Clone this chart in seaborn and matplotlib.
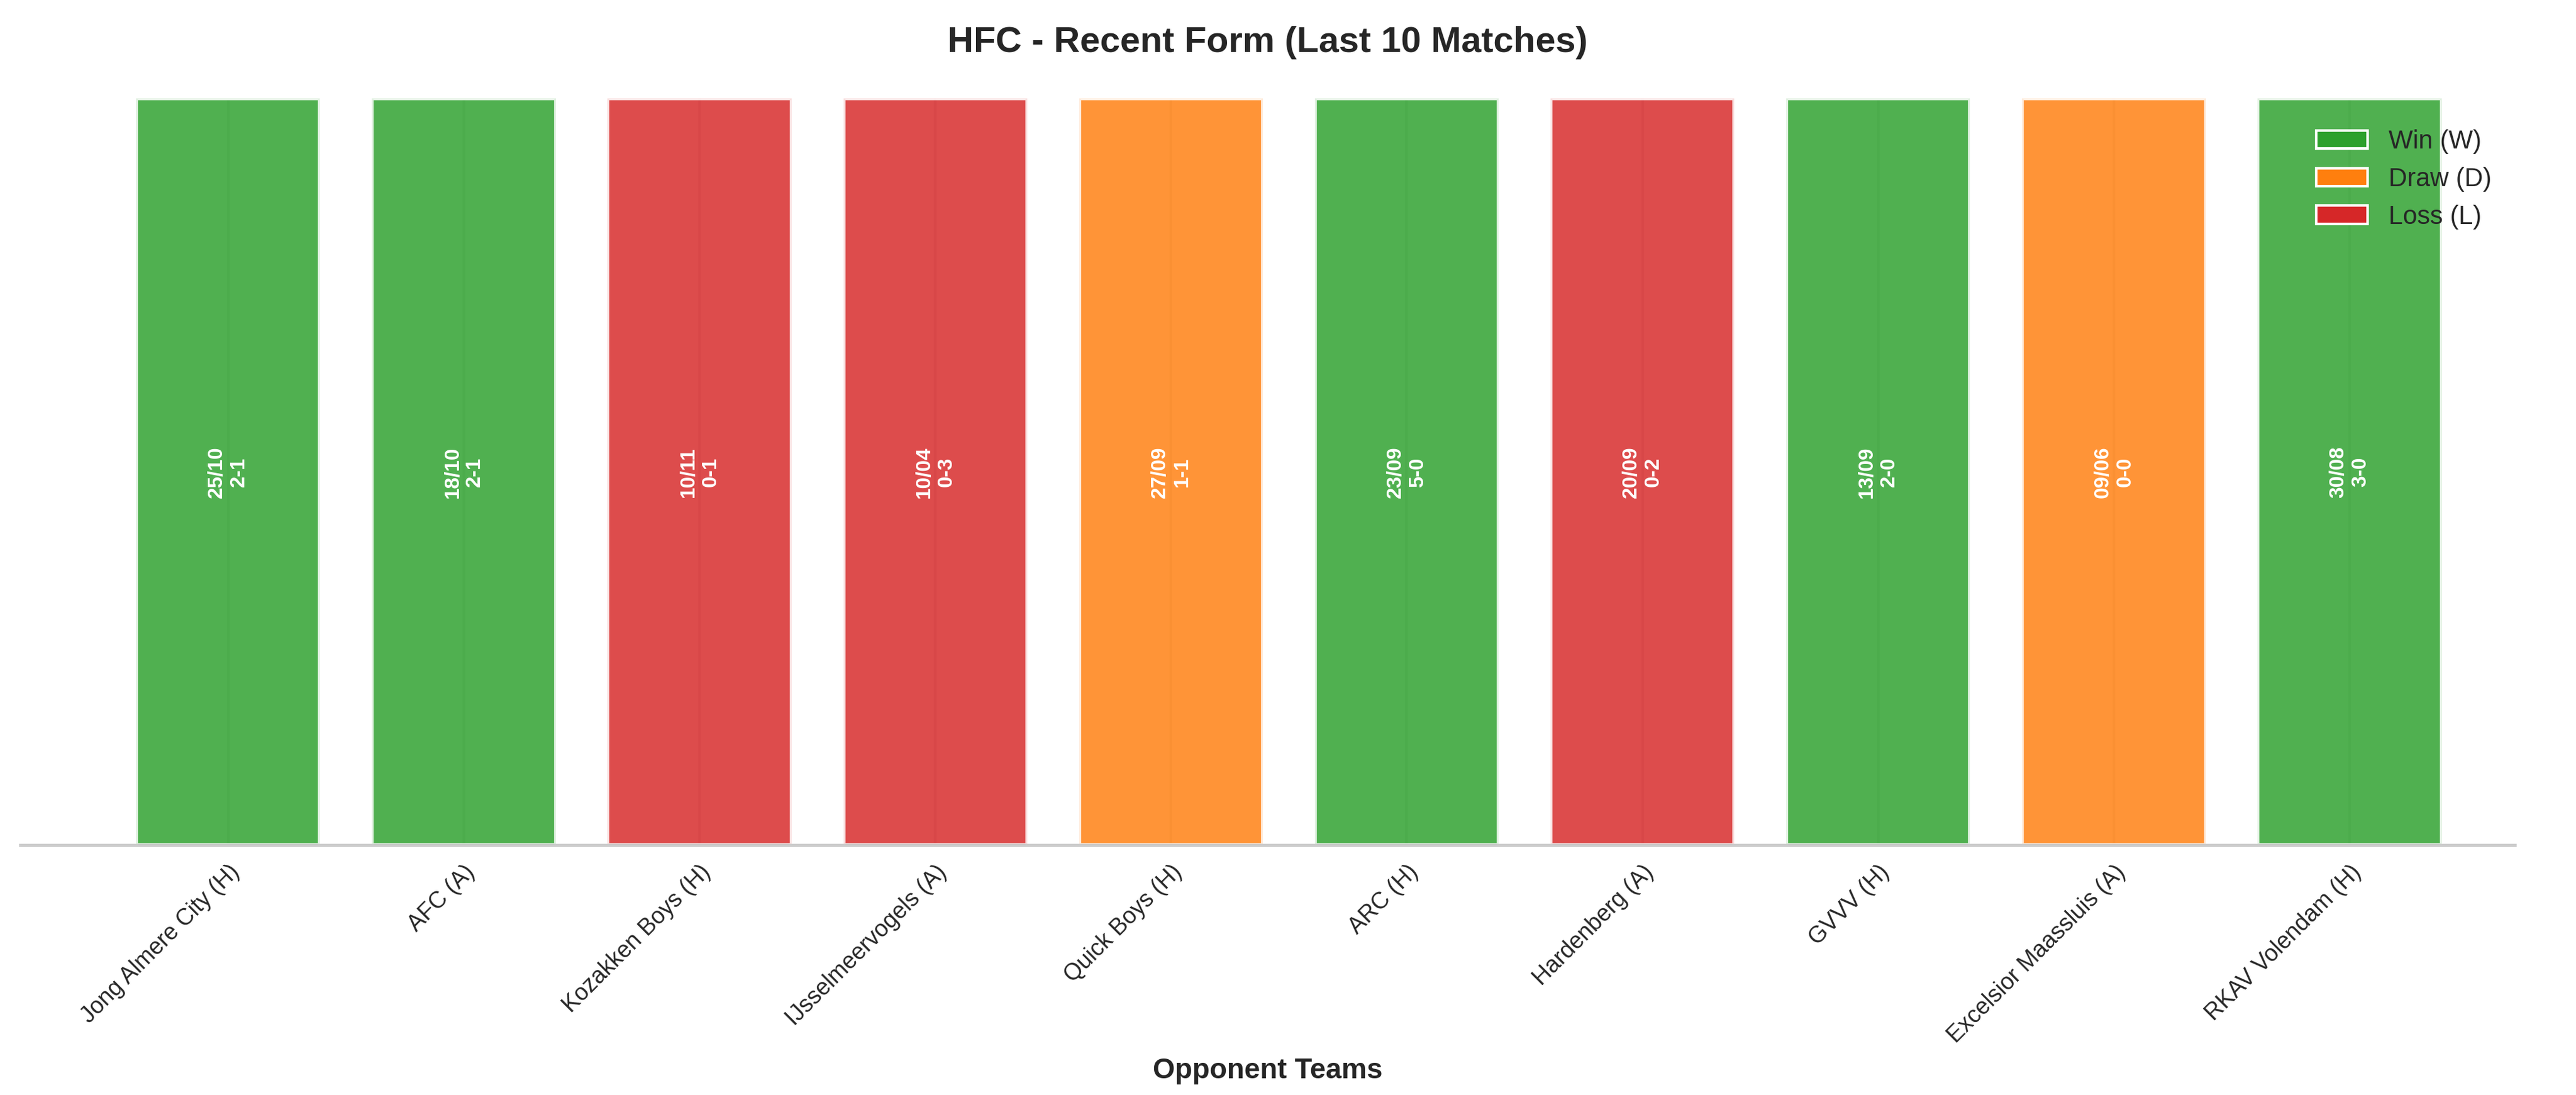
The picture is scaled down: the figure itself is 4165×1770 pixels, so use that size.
import numpy as np
import pandas as pd
import seaborn as sns
import matplotlib.pyplot as plt
from matplotlib.patches import Patch

opponents = ["Jong Almere City (H)", "AFC (A)", "Kozakken Boys (H)", "IJsselmeervogels (A)",
             "Quick Boys (H)", "ARC (H)", "Hardenberg (A)", "GVVV (H)",
             "Excelsior Maassluis (A)", "RKAV Volendam (H)"]
results = ["W", "W", "L", "L", "D", "W", "L", "W", "D", "W"]
dates = ["25/10", "18/10", "10/11", "10/04", "27/09", "23/09", "20/09", "13/09", "09/06", "30/08"]
scores = ["2-1", "2-1", "0-1", "0-3", "1-1", "5-0", "0-2", "2-0", "0-0", "3-0"]

palette = {"W": "#2ca02c", "D": "#ff7f0e", "L": "#d62728"}

sns.set_theme(style="whitegrid")
plt.rcParams["font.family"] = ["Liberation Sans", "DejaVu Sans"]

df = pd.DataFrame({"opponent": opponents, "result": results, "value": 1})

fig, ax = plt.subplots(figsize=(13.886, 5.9), dpi=300)
sns.barplot(data=df, x="opponent", y="value", hue="result", palette=palette,
            dodge=False, width=0.78, alpha=0.83, saturation=1, edgecolor="white",
            linewidth=1.5, legend=False, ax=ax)
ax.grid(axis="y", visible=False)
ax.grid(axis="x", color="#d0d0d0", alpha=0.5)

for i, (d, s) in enumerate(zip(dates, scores)):
    ax.text(i, 0.5, f"{d}\n{s}", rotation=90, ha="center", va="center",
            color="white", fontsize=8, fontweight="bold")

ax.set_ylim(0, 1.0)
ax.set_xlim(-0.88, 9.7)
ax.set_yticks([])
ax.set_ylabel("")
ax.set_xlabel("Opponent Teams", fontsize=11, fontweight="bold")
ax.set_xticks(range(len(opponents)))
ax.set_xticklabels(opponents, rotation=45, ha="right", rotation_mode="anchor", fontsize=9)
ax.tick_params(axis="x", pad=6, length=0)
ax.set_title("HFC - Recent Form (Last 10 Matches)", fontsize=14, fontweight="bold", pad=18)
for sp in ["top", "left", "right"]:
    ax.spines[sp].set_visible(False)
ax.spines["bottom"].set_color("#cccccc")

handles = [Patch(facecolor=palette["W"], label="Win (W)"),
           Patch(facecolor=palette["D"], label="Draw (D)"),
           Patch(facecolor=palette["L"], label="Loss (L)")]
ax.legend(handles=handles, loc="upper right", frameon=False, fontsize=10,
          bbox_to_anchor=(1.0, 0.99))

fig.subplots_adjust(left=0.008, right=0.976, top=0.91, bottom=0.228)
fig.savefig("out.png", dpi=300)
